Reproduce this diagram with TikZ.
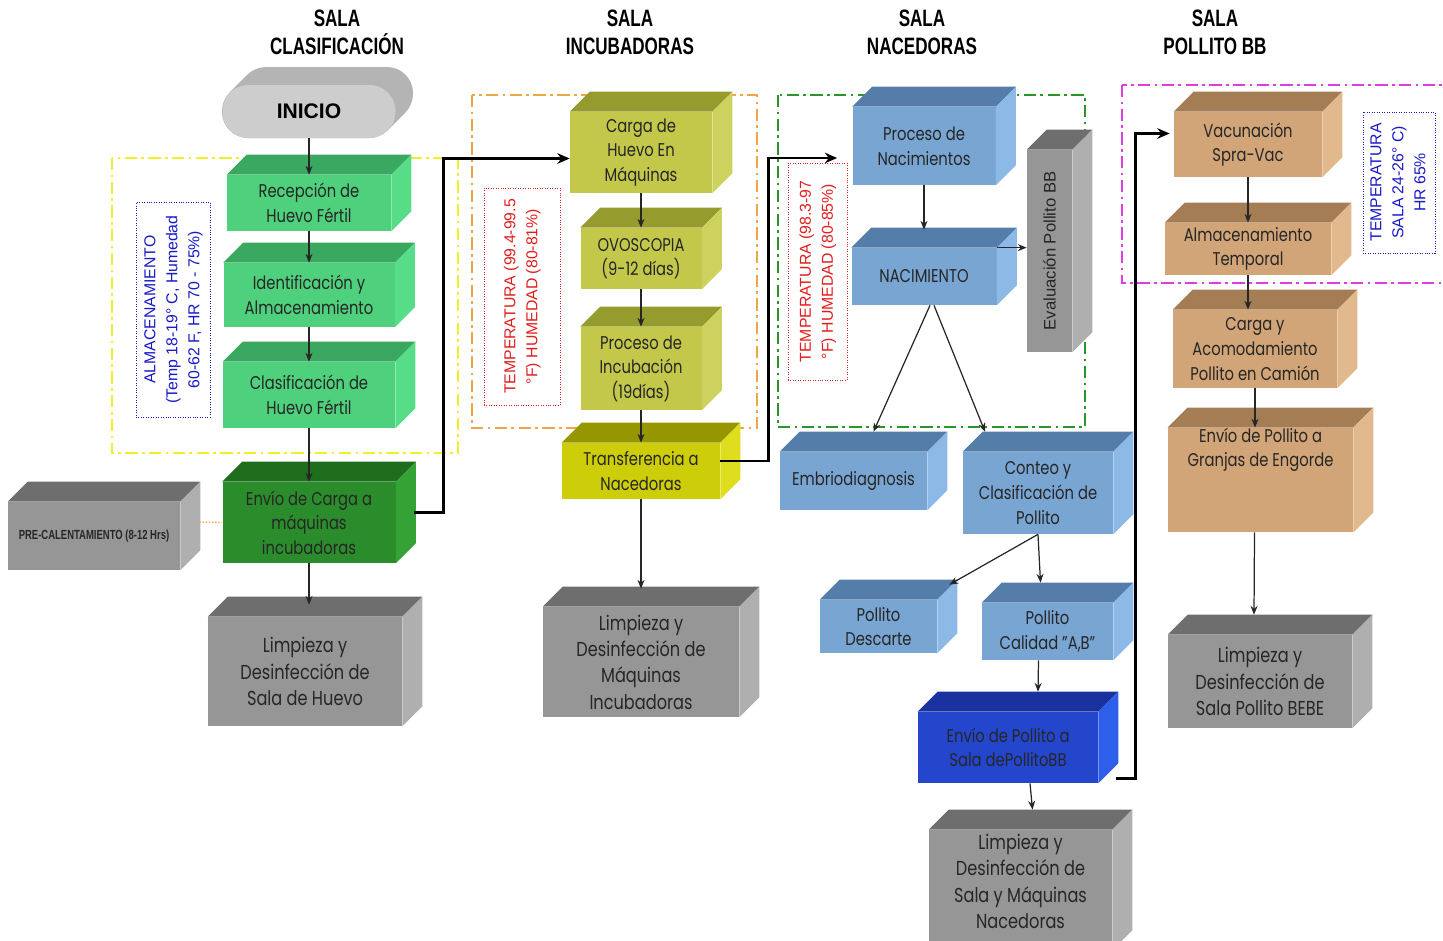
\documentclass[tikz,border=0pt]{standalone}
\usepackage{fontspec}
\setmainfont{Poppins}[FakeStretch=0.8]
\newfontfamily\arialfont{Liberation Sans}
\newfontfamily\titlefont{Liberation Sans}[FakeStretch=0.72]
\usepackage{tikz}
\usetikzlibrary{arrows.meta}

% front / top / side colours of the boxes
\definecolor{grnF}{RGB}{79,208,124}  \definecolor{grnT}{RGB}{59,168,98}   \definecolor{grnS}{RGB}{87,220,136}
\definecolor{dgrF}{RGB}{42,140,42}   \definecolor{dgrT}{RGB}{30,110,30}   \definecolor{dgrS}{RGB}{52,162,52}
\definecolor{olvF}{RGB}{195,200,75}  \definecolor{olvT}{RGB}{150,155,45}  \definecolor{olvS}{RGB}{205,210,95}
\definecolor{ylwF}{RGB}{205,205,10}  \definecolor{ylwT}{RGB}{150,150,0}   \definecolor{ylwS}{RGB}{222,222,30}
\definecolor{bluF}{RGB}{120,165,210} \definecolor{bluT}{RGB}{85,125,170}  \definecolor{bluS}{RGB}{140,185,230}
\definecolor{dblF}{RGB}{35,70,205}   \definecolor{dblT}{RGB}{25,50,160}   \definecolor{dblS}{RGB}{45,95,235}
\definecolor{tanF}{RGB}{210,165,120} \definecolor{tanT}{RGB}{165,125,85}  \definecolor{tanS}{RGB}{225,185,140}
\definecolor{gryF}{RGB}{150,150,150} \definecolor{gryT}{RGB}{110,110,110} \definecolor{gryS}{RGB}{175,175,175}
\definecolor{iniF}{RGB}{205,205,205} \definecolor{iniT}{RGB}{180,180,180}
\definecolor{zyel}{RGB}{240,240,40}
\definecolor{zora}{RGB}{240,165,70}
\definecolor{zgrn}{RGB}{40,150,40}
\definecolor{zmag}{RGB}{225,60,225}
\definecolor{nblue}{RGB}{25,25,200}
\definecolor{nred}{RGB}{225,30,30}

\newcommand{\boxfont}{\fontsize{10.5}{14}\selectfont}
\newcommand{\cleanfont}{\fontsize{11.5}{15}\selectfont}
\newcommand{\notefont}{\arialfont\fontsize{9}{12.5}\selectfont}

\begin{document}
\begin{tikzpicture}[
        x=0.02cm, y=-0.02cm,
        >={Stealth[length=5pt,width=4pt]}, % Arrowhead style
        cube/.style={rectangle, inner sep=0pt, align=center, fill=#1F, text=black!85, font=\boxfont},
        boxsize/.style 2 args={minimum width=#1*0.02cm, minimum height=#2*0.02cm},
        clean/.style={cube=gry, font=\cleanfont},
        start/.style={rectangle, rounded corners=0.52cm, fill=iniF, font=\arialfont\bfseries\fontsize{12}{14}\selectfont},
        zone/.style={draw=#1, line width=1.1pt, dash pattern=on 7pt off 2.5pt on 1.5pt off 2.5pt},
        note/.style={draw=#1, densely dotted, line width=0.4pt, inner sep=0pt, text=#1},
        title/.style={font=\titlefont\bfseries\fontsize{13.5}{16}\selectfont, align=center},
        arr/.style={->, line width=0.7pt, black!85},
        flow/.style={-{Stealth[length=7pt,width=6pt]}, line width=1.6pt},
        heat/.style={densely dotted, line width=0.8pt, zora}
    ]
    \useasboundingbox (0,0) rectangle (1443,940);

    % ==========================================
    % Room titles
    % ==========================================
    \node[title] (t1) at (337,32) {SALA\\CLASIFICACIÓN};
    \node[title] (t2) at (630,32) {SALA\\INCUBADORAS};
    \node[title] (t3) at (922,32) {SALA\\NACEDORAS};
    \node[title] (t4) at (1215,32) {SALA\\POLLITO BB};

    % ==========================================
    % Zones and notes
    % ==========================================
    \draw[zone=zyel] (112,158) rectangle (458,453);
    \draw[zone=zora] (472,95) rectangle (757,428);
    \draw[zone=zgrn] (778,95) rectangle (1085,427);
    \draw[zone=zmag] (1122,85) rectangle (1460,283);

    \node[note=nblue, boxsize={74}{215}] (n1) at (173,309.5)
        {\rotatebox{90}{\notefont\begin{tabular}{@{}c@{}}ALMACENAMIENTO\\(Temp 18-19° C, Humedad\\60-62 F, HR 70 - 75\%)\end{tabular}}};
    \node[note=nred, boxsize={76}{217}] (n2) at (522,296.5)
        {\rotatebox{90}{\notefont\begin{tabular}{@{}c@{}}TEMPERATURA (99.4-99.5\\°F) HUMEDAD (80-81\%)\end{tabular}}};
    \node[note=nred, boxsize={59}{217}] (n3) at (817.5,271.5)
        {\rotatebox{90}{\notefont\begin{tabular}{@{}c@{}}TEMPERATURA (98.3-97\\°F) HUMEDAD (80-85\%)\end{tabular}}};
    \node[note=nblue, boxsize={72}{141}] (n4) at (1399,182.5)
        {\rotatebox{90}{\notefont\begin{tabular}{@{}c@{}}TEMPERATURA\\SALA 24-26° C)\\HR 65\%\end{tabular}}};

    % ==========================================
    % Nodes Placement
    % ==========================================
    \foreach \t in {0,...,18}
        \fill[iniT, rounded corners=0.52cm] (222+\t,85-\t) rectangle (395+\t,138-\t);
    \node[start, boxsize={173}{53}] (ini) at (309,111.5) {INICIO};

    % Sala clasificacion
    \node[cube=grn, boxsize={164}{56}] (rec) at (309,203) {Recepción de\\Huevo Fértil};
    \node[cube=grn, boxsize={171}{64}] (ide) at (309,295) {Identificación y\\Almacenamiento};
    \node[cube=grn, boxsize={172}{66}] (cla) at (309,395) {Clasificación de\\Huevo Fértil};
    \node[cube=dgr, boxsize={173}{81}] (env) at (309,522.5) {Envío de Carga a\\máquinas\\incubadoras};
    \node[clean, boxsize={194}{109}] (lim1) at (305,671.5) {Limpieza y\\Desinfección de\\Sala de Huevo};
    \node[cube=gry, boxsize={172}{68}, font=\titlefont\bfseries\fontsize{7.5}{9}\selectfont] (pre) at (94,536) {PRE-CALENTAMIENTO (8-12 Hrs)};

    % Sala incubadoras
    \node[cube=olv, boxsize={142}{81}] (car) at (641,152.5) {Carga de\\Huevo En\\Máquinas};
    \node[cube=olv, boxsize={121}{61}] (ovo) at (641,258.5) {OVOSCOPIA\\(9-12 días)};
    \node[cube=olv, boxsize={121}{83}] (pin) at (641,368.5) {Proceso de\\Incubación\\(19días)};
    \node[cube=ylw, boxsize={158}{56}] (tra) at (641,471) {Transferencia a\\Nacedoras};
    \node[clean, boxsize={196}{110}] (lim2) at (641,662) {Limpieza y\\Desinfección de\\Máquinas\\Incubadoras};

    % Sala nacedoras
    \node[cube=blu, boxsize={143}{78}] (pna) at (924,146) {Proceso de\\Nacimientos};
    \node[cube=blu, boxsize={145}{57}] (nac) at (924,276.5) {NACIMIENTO};
    \node[cube=gry, boxsize={45}{202}] (eva) at (1049.5,251) {\rotatebox{90}{\arialfont\fontsize{9.5}{11}\selectfont Evaluación Pollito BB}};
    \node[cube=blu, boxsize={147}{58}] (emb) at (853.5,481) {Embriodiagnosis};
    \node[cube=blu, boxsize={150}{82}] (con) at (1038,493) {Conteo y\\Clasificación de\\Pollito};
    \node[cube=blu, boxsize={117}{53}] (des) at (878.5,626.5) {Pollito\\Descarte};
    \node[cube=blu, boxsize={131}{57}] (cal) at (1047.5,631.5) {Pollito\\Calidad "A,B"};
    \node[cube=dbl, boxsize={180}{71}] (epb) at (1008,747.5) {Envío de Pollito a\\Sala dePollitoBB};
    \node[clean, boxsize={183}{120}] (lim3) at (1020.5,890) {Limpieza y\\Desinfección de\\Sala y Máquinas\\Nacedoras\\[-5pt]\mbox{}};

    % Sala pollito BB
    \node[cube=tan, boxsize={148}{65}] (vac) at (1248,144.5) {Vacunación\\Spra-Vac};
    \node[cube=tan, boxsize={166}{52}] (alm) at (1248,249) {Almacenamiento\\Temporal};
    \node[cube=tan, boxsize={164}{78}] (cam) at (1255,349) {Carga y\\Acomodamiento\\Pollito en Camión};
    \node[cube=tan, boxsize={185}{96}] (gra) at (1260.5,480) {Envío de Pollito a\\Granjas de Engorde\\[2.2em]\mbox{}};
    \node[clean, boxsize={184}{93}] (lim4) at (1260,681.5) {Limpieza y\\Desinfección de\\Sala Pollito BEBE};

    % top and side faces of the boxes
    \foreach \n/\clr in {rec/grn, ide/grn, cla/grn, env/dgr, lim1/gry, pre/gry,
                         car/olv, ovo/olv, pin/olv, tra/ylw, lim2/gry,
                         pna/blu, nac/blu, eva/gry, emb/blu, con/blu, des/blu, cal/blu, epb/dbl, lim3/gry,
                         vac/tan, alm/tan, cam/tan, gra/tan, lim4/gry}
    {
        \fill[fill=\clr T] (\n.north west) -- ++(20,-20) -- ([shift={(20,-20)}]\n.north east) -- (\n.north east) -- cycle;
        \fill[fill=\clr S] (\n.north east) -- ++(20,-20) -- ([shift={(20,-20)}]\n.south east) -- (\n.south east) -- cycle;
    }

    % ==========================================
    % Edges
    % ==========================================
    \draw[arr] (ini.south) -- (rec.north);
    \draw[arr] (rec.south) -- (ide.north);
    \draw[arr] (ide.south) -- (cla.north);
    \draw[arr] (cla.south) -- (env.north);
    \draw[arr] (env.south) -- ([shift={(4,-12)}]lim1.north);
    \draw[heat] ([shift={(19,-14)}]pre.east) -- (env.west);

    \draw[arr] (car.south) -- (ovo.north);
    \draw[arr] (ovo.south) -- (pin.north);
    \draw[arr] (pin.south) -- (tra.north);
    \draw[arr] (tra.south) -- ([shift={(0,-18)}]lim2.north);

    \draw[arr] (pna.south) -- ([shift={(0,-18)}]nac.north);
    \draw[arr] (nac.north east) -- (nac.north east -| eva.west);
    \draw[arr] ([shift={(6,0)}]nac.south) -- ([shift={(20,-20)}]emb.north);
    \draw[arr] ([shift={(10,0)}]nac.south) -- ([shift={(-53,-20)}]con.north);
    \draw[arr] (con.south) -- ([shift={(12,-15)}]des.north east);
    \draw[arr] (con.south) -- ([shift={(-7,-20)}]cal.north);
    \draw[arr] ([shift={(-9,0)}]cal.south) -- ([shift={(30,-20)}]epb.north);
    \draw[arr] ([shift={(22,0)}]epb.south) -- ([shift={(12,-20)}]lim3.north);

    \draw[arr] (vac.south) -- (alm.north);
    \draw[arr] (alm.south) -- (alm.south |- cam.north);
    \draw[arr] (cam.south) -- (cam.south |- gra.north);
    \draw[arr] ([shift={(-6,0)}]gra.south) -- ([shift={(-6,-20)}]lim4.north);

    % connections between rooms
    \draw[flow] ([shift={(18,-10)}]env.east) -- ++(30,0) |- ([shift={(0,6)}]car.west);
    \draw[flow] ([shift={(0,-10)}]tra.east) -- ++(48,0) |- ([shift={(-15,12)}]pna.west);
    \draw[flow] ([shift={(18,-5)}]epb.south east) -- ++(19,0) |- ([shift={(-4,-11)}]vac.west);

\end{tikzpicture}
\end{document}
